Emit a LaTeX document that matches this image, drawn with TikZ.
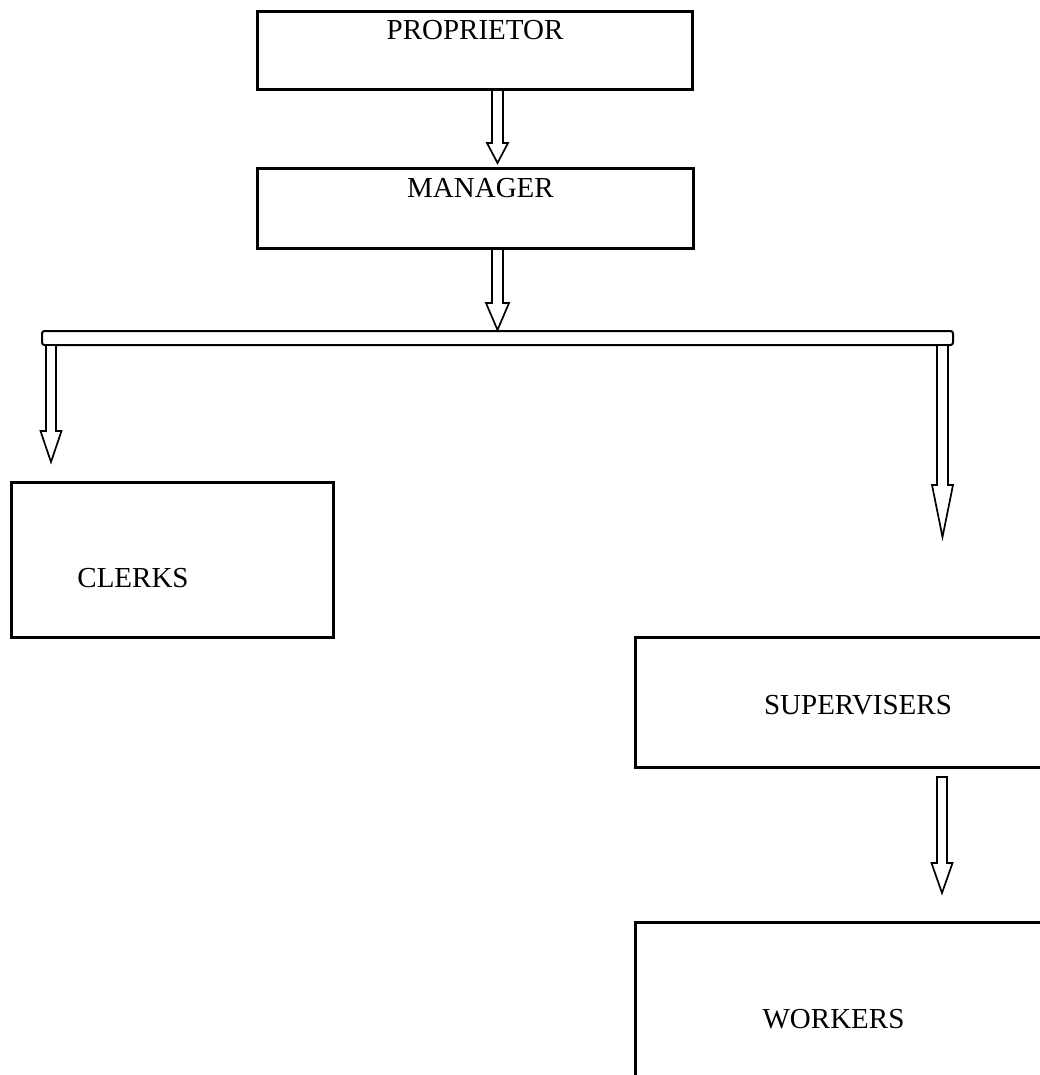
\documentclass[tikz,border=0pt]{standalone}
\usepackage{fontspec}
\setmainfont{Liberation Serif}
\usetikzlibrary{calc}
\tikzset{
  boxshape/.style={draw, line width=3pt, rectangle, inner sep=0pt, minimum width=#1},
  lbl/.style={inner sep=0pt, anchor=base, font=\fontsize{29}{34}\selectfont},
  arrowline/.style={draw, line width=1.7pt, fill=white, line join=miter},
  barshape/.style={draw, line width=2pt, rounded corners=2.5pt, inner sep=0pt, fill=white}
}
% hollow block arrow: start coord, end coord, shaft half width, head half width, head length
\newcommand\hollowarrow[5]{%
  \draw[arrowline] let \p1=(#1), \p2=(#2) in
    (\x1-#3,\y1) -- (\x1-#3,\y2+#5) -- (\x1-#4,\y2+#5) -- (\x1,\y2)
    -- (\x1+#4,\y2+#5) -- (\x1+#3,\y2+#5) -- (\x1+#3,\y1) -- cycle;}
\begin{document}
\begin{tikzpicture}[x=1pt,y=-1pt]
\useasboundingbox (0,0) rectangle (1040,1075);
% boxes
\node[boxshape=435pt, minimum height=78pt] (prop) at (474.5,51) {};
\node[boxshape=436pt, minimum height=79pt] (mgr) at (475,208.5) {};
\node[boxshape=322pt, minimum height=155pt] (clerks) at (172,559.5) {};
\draw[line width=3pt] (1050,637) -| (635,767) -- (1050,767);
\draw[line width=3pt] (1050,922) -| (635,1085);
% labels
\node[lbl] (tprop) at (475,39.5) {PROPRIETOR};
\node[lbl] (tmgr) at (480.5,198) {MANAGER};
\node[lbl] (tclerks) at (133,587) {CLERKS};
\node[lbl] (tsup) at (858,714) {SUPERVISERS};
\node[lbl] (twork) at (833.5,1028) {WORKERS};
% distribution bar
\node[barshape, minimum width=911pt, minimum height=14pt] (bar) at (497.5,338) {};
% arrow end points
\coordinate (a1s) at (497.5,90);
\coordinate (a1e) at (497.5,163);
\coordinate (a2s) at (497.5,249);
\coordinate (a2e) at (497.5,330);
\coordinate (a3s) at (51,345);
\coordinate (a3e) at (51,462);
\coordinate (a4s) at (942.5,345);
\coordinate (a4e) at (942.5,537);
\coordinate (a5s) at (942,777);
\coordinate (a5e) at (942,893);
\hollowarrow{a1s}{a1e}{5.5pt}{10.5pt}{20pt}
\hollowarrow{a2s}{a2e}{5.5pt}{11.5pt}{27pt}
\hollowarrow{a3s}{a3e}{5pt}{10.5pt}{31pt}
\hollowarrow{a4s}{a4e}{5.5pt}{10.5pt}{52pt}
\hollowarrow{a5s}{a5e}{5pt}{10.5pt}{30pt}
\end{tikzpicture}
\end{document}
